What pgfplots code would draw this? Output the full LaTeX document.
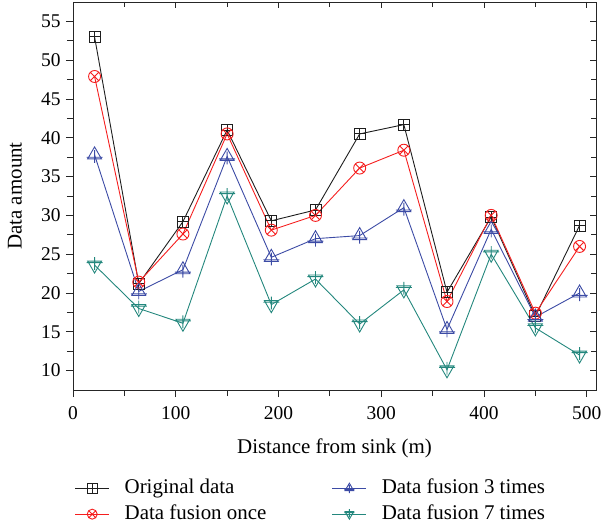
\documentclass[border=0pt]{standalone}
\usepackage{pgfplots}
\pgfplotsset{compat=1.18}
\usepackage{fontspec}
\setmainfont{Liberation Serif}
\definecolor{cBlack}{RGB}{30,30,30}
\definecolor{cRed}{RGB}{245,30,30}
\definecolor{cBlue}{RGB}{60,75,165}
\definecolor{cTeal}{RGB}{35,135,125}
\pgfdeclareplotmark{sqplus}{%
  \pgfpathrectangle{\pgfqpoint{-\pgfplotmarksize}{-\pgfplotmarksize}}{\pgfqpoint{2\pgfplotmarksize}{2\pgfplotmarksize}}%
  \pgfpathmoveto{\pgfqpoint{-\pgfplotmarksize}{0pt}}\pgfpathlineto{\pgfqpoint{\pgfplotmarksize}{0pt}}%
  \pgfpathmoveto{\pgfqpoint{0pt}{-\pgfplotmarksize}}\pgfpathlineto{\pgfqpoint{0pt}{\pgfplotmarksize}}%
  \pgfusepathqstroke}
\pgfdeclareplotmark{triplus}{%
  \pgfpathmoveto{\pgfqpoint{0pt}{\pgfplotmarksize}}%
  \pgfpathlineto{\pgfqpointpolar{-150}{\pgfplotmarksize}}%
  \pgfpathlineto{\pgfqpointpolar{-30}{\pgfplotmarksize}}%
  \pgfpathclose
  \pgfpathmoveto{\pgfqpoint{-\pgfplotmarksize}{-0.3\pgfplotmarksize}}\pgfpathlineto{\pgfqpoint{\pgfplotmarksize}{-0.3\pgfplotmarksize}}%
  \pgfpathmoveto{\pgfqpoint{0pt}{-\pgfplotmarksize}}\pgfpathlineto{\pgfqpoint{0pt}{0.6\pgfplotmarksize}}%
  \pgfusepathqstroke}
\pgfdeclareplotmark{tridownplus}{%
  \pgfpathmoveto{\pgfqpoint{0pt}{-\pgfplotmarksize}}%
  \pgfpathlineto{\pgfqpointpolar{150}{\pgfplotmarksize}}%
  \pgfpathlineto{\pgfqpointpolar{30}{\pgfplotmarksize}}%
  \pgfpathclose
  \pgfpathmoveto{\pgfqpoint{-\pgfplotmarksize}{0.3\pgfplotmarksize}}\pgfpathlineto{\pgfqpoint{\pgfplotmarksize}{0.3\pgfplotmarksize}}%
  \pgfpathmoveto{\pgfqpoint{0pt}{\pgfplotmarksize}}\pgfpathlineto{\pgfqpoint{0pt}{-0.6\pgfplotmarksize}}%
  \pgfusepathqstroke}
\pgfplotsset{
  myframe/.style={
    width=523bp, height=388bp, scale only axis,
    xmin=0, xmax=509, ymin=7.5, ymax=57.5,
    xtick={0,100,...,500}, ytick={10,15,...,55},
    minor x tick num=1, minor y tick num=1,
    every tick/.style={black!85, line width=0.8pt},
    axis line style={line width=1pt, black!85},
  }
}
\begin{document}
\begin{tikzpicture}
\begin{axis}[
  myframe,
  tick pos=left, tick align=outside,
  major tick length=7bp, minor tick length=6bp,
  /pgf/number format/assume math mode=true,
  tick label style={font=\fontsize{19.5}{22}\selectfont},
  xticklabel style={yshift=-6bp},
  yticklabel style={xshift=-2bp},
  label style={font=\fontsize{21}{25}\selectfont},
  xlabel={Distance from sink (m)},
  ylabel={Data amount},
  xlabel style={at={(axis description cs:0.5,-0.15)}, anchor=center},
  ylabel style={at={(axis description cs:-0.111,0.5)}, anchor=center},
  legend columns=2,
  transpose legend,
  legend cell align=left,
  legend style={draw=none, fill=none, inner sep=0pt, at={(axis description cs:0.003,-0.219)}, anchor=north west,
    font=\fontsize{21}{26}\selectfont, row sep=0bp,
    nodes={inner xsep=7.5bp, inner ysep=3bp, text height=15bp, text depth=5bp},
    /tikz/every odd column/.append style={column sep=7.5bp},
    /tikz/every even column/.append style={column sep=58bp}},
  legend image code/.code={\draw[mark repeat=2,mark phase=2, mark size=5bp] plot coordinates {(0bp,0bp) (17bp,0bp) (34bp,0bp)};},
  every axis plot/.append style={line width=0.9pt},
]
\addplot[cBlack, mark=sqplus, mark size=5.5bp] coordinates {
(21,53.0) (64,21.2) (107,29.2) (150,41.0) (193,29.3) (236,30.7) (279,40.5) (322,41.7) (364,20.1) (407,29.8) (450,17.0) (493,28.7)};
\addlegendentry{Original data}
\addplot[cRed, mark=otimes, mark size=6bp] coordinates {
(21,47.9) (64,21.4) (107,27.6) (150,40.5) (193,28.1) (236,30.0) (279,36.1) (322,38.4) (364,18.9) (407,30.0) (450,17.4) (493,26.0)};
\addlegendentry{Data fusion once}
\addplot[cBlue, mark=triplus, mark size=8bp] coordinates {
(21,37.8) (64,20.2) (107,23.0) (150,37.6) (193,24.6) (236,27.0) (279,27.4) (322,31.0) (364,15.3) (407,28.2) (450,16.9) (493,20.0)};
\addlegendentry{Data fusion 3 times}
\addplot[cTeal, mark=tridownplus, mark size=8bp] coordinates {
(21,23.6) (64,18.0) (107,16.1) (150,32.5) (193,18.5) (236,21.8) (279,16.0) (322,20.4) (364,10.1) (407,25.0) (450,15.5) (493,12.0)};
\addlegendentry{Data fusion 7 times}
\end{axis}
\begin{axis}[
  myframe,
  tick pos=right, tick align=inside,
  major tick length=6bp, minor tick length=5bp,
  xticklabels={}, yticklabels={},
]
\end{axis}
\pgfresetboundingbox
\useasboundingbox ([xshift=-73bp,yshift=-141bp]current axis.south west) rectangle ([xshift=5bp,yshift=2bp]current axis.north east);
\end{tikzpicture}
\end{document}
